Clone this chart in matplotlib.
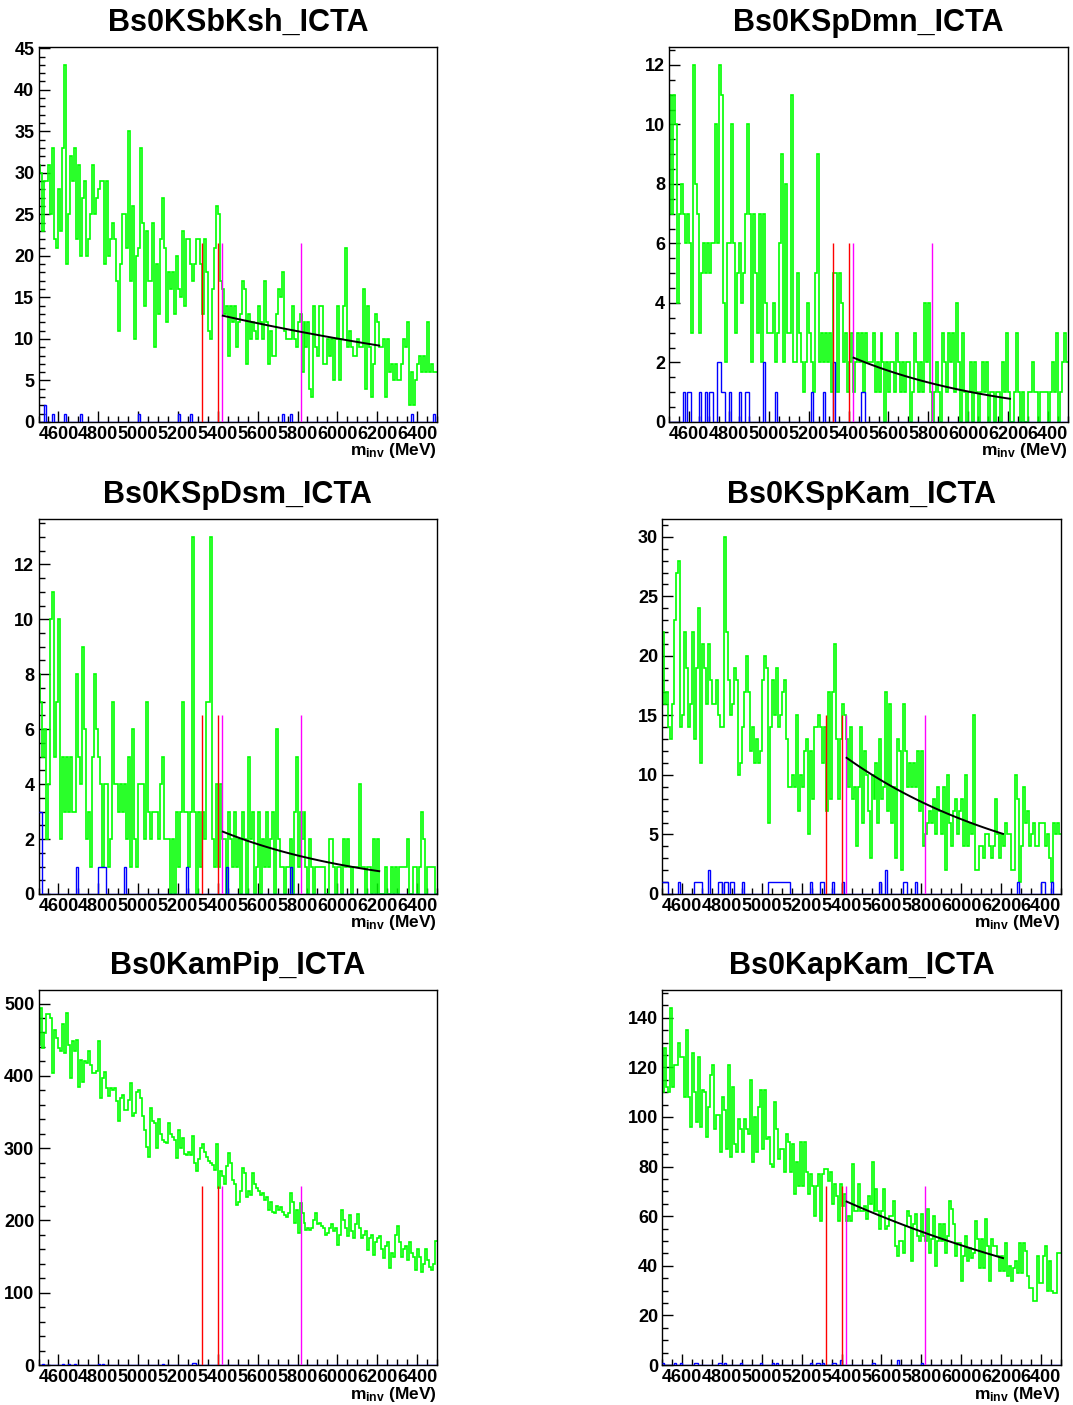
import numpy as np
import matplotlib
matplotlib.use("Agg")
import matplotlib.pyplot as plt
from matplotlib.ticker import MultipleLocator

plt.rcParams['font.family'] = ['Liberation Sans', 'DejaVu Sans']
plt.rcParams['font.weight'] = 'bold'
plt.rcParams['mathtext.fontset'] = 'custom'
plt.rcParams['mathtext.rm'] = 'Liberation Sans:bold'
plt.rcParams['mathtext.it'] = 'Liberation Sans:bold'
plt.rcParams['mathtext.bf'] = 'Liberation Sans:bold'

# binning: 200 bins of 10 MeV
m_lo, m_hi, n_bins = 4500, 6500, 200
edges = np.linspace(m_lo, m_hi, n_bins + 1)

titles = ["Bs0KSbKsh_ICTA", "Bs0KSpDmn_ICTA", "Bs0KSpDsm_ICTA",
          "Bs0KSpKam_ICTA", "Bs0KamPip_ICTA", "Bs0KapKam_ICTA"]

# green histograms (10 MeV bins)
green_ksbksh = [
    31, 30, 23, 29, 29, 31, 25, 33, 22, 21,
    28, 23, 33, 43, 19, 25, 32, 29, 33, 22,
    31, 20, 27, 29, 20, 22, 25, 31, 25, 27,
    28, 29, 29, 19, 29, 20, 22, 24, 22, 17,
    11, 19, 25, 25, 21, 35, 17, 26, 10, 20,
    21, 33, 24, 14, 23, 17, 17, 24, 9, 19,
    13, 22, 27, 21, 12, 18, 16, 18, 13, 20,
    16, 15, 23, 14, 22, 22, 19, 17, 19, 22,
    22, 19, 13, 22, 18, 11, 10, 16, 21, 26,
    25, 17, 16, 13, 14, 8, 14, 12, 14, 9,
    12, 13, 17, 16, 7, 13, 10, 12, 11, 10,
    14, 12, 10, 17, 12, 7, 11, 8, 8, 13,
    16, 15, 18, 11, 10, 10, 10, 14, 10, 9,
    12, 13, 6, 12, 9, 12, 4, 3, 14, 9,
    8, 14, 14, 7, 7, 10, 8, 10, 5, 10,
    14, 5, 10, 14, 21, 9, 11, 9, 8, 8,
    10, 9, 9, 16, 4, 14, 9, 3, 7, 13,
    12, 9, 9, 10, 3, 10, 6, 7, 5, 7,
    5, 5, 7, 10, 9, 12, 2, 6, 2, 5,
    7, 8, 6, 8, 6, 12, 6, 7, 6, 6]

green_kspdmn = [
    11, 7, 11, 10, 4, 7, 8, 7, 6, 7,
    6, 3, 12, 8, 7, 3, 5, 6, 5, 6,
    5, 6, 6, 10, 6, 12, 11, 4, 2, 6,
    6, 10, 6, 3, 5, 6, 4, 5, 7, 10,
    7, 2, 7, 5, 3, 7, 2, 7, 4, 3,
    3, 3, 4, 2, 3, 6, 9, 2, 8, 3,
    3, 11, 2, 2, 5, 3, 2, 1, 2, 4,
    3, 2, 1, 5, 9, 2, 3, 2, 3, 2,
    3, 1, 5, 5, 1, 5, 4, 2, 3, 1,
    2, 3, 1, 2, 3, 2, 3, 1, 3, 2,
    2, 2, 3, 1, 2, 1, 3, 2, 0, 2,
    1, 2, 2, 1, 3, 2, 1, 2, 1, 2,
    2, 0, 1, 3, 2, 1, 2, 1, 4, 2,
    4, 1, 0, 1, 2, 1, 0, 3, 2, 1,
    3, 2, 3, 1, 4, 2, 0, 3, 1, 0,
    1, 2, 0, 2, 1, 0, 1, 2, 1, 2,
    0, 1, 1, 0, 1, 1, 0, 2, 1, 3,
    1, 0, 0, 1, 3, 1, 0, 1, 0, 0,
    1, 1, 2, 1, 1, 0, 1, 1, 1, 1,
    0, 1, 2, 1, 3, 0, 1, 2, 3, 2]

green_kspdsm = [
    8, 7, 5, 6, 2, 4, 10, 11, 5, 7,
    10, 2, 5, 3, 5, 3, 5, 3, 3, 8,
    5, 4, 9, 6, 2, 3, 1, 5, 8, 6,
    5, 4, 1, 4, 4, 1, 2, 7, 4, 4,
    3, 4, 3, 4, 2, 5, 1, 6, 2, 1,
    4, 4, 4, 2, 7, 3, 2, 3, 3, 3,
    2, 4, 5, 2, 2, 2, 0, 2, 0, 3,
    1, 3, 7, 3, 3, 1, 3, 13, 3, 0,
    3, 1, 3, 2, 7, 7, 13, 2, 1, 4,
    1, 4, 2, 2, 0, 3, 2, 1, 3, 1,
    2, 0, 3, 2, 0, 5, 2, 3, 0, 1,
    3, 0, 2, 1, 3, 1, 2, 3, 0, 6,
    2, 1, 1, 0, 1, 1, 2, 0, 3, 5,
    1, 3, 2, 3, 1, 0, 2, 1, 0, 1,
    1, 1, 1, 1, 0, 0, 2, 2, 1, 0,
    1, 1, 0, 2, 1, 2, 1, 0, 1, 1,
    1, 4, 1, 1, 0, 1, 1, 0, 2, 0,
    2, 0, 0, 0, 1, 0, 0, 1, 0, 1,
    0, 1, 1, 1, 1, 2, 0, 0, 1, 1,
    0, 1, 3, 2, 0, 1, 1, 1, 1, 0]

green_kspkam = [
    22, 16, 17, 14, 13, 16, 23, 27, 28, 14,
    15, 22, 19, 14, 16, 22, 13, 19, 24, 11,
    21, 19, 16, 21, 18, 16, 16, 18, 15, 14,
    14, 30, 22, 18, 15, 16, 19, 18, 10, 11,
    14, 17, 20, 17, 12, 14, 11, 13, 11, 12,
    18, 20, 19, 6, 14, 18, 15, 19, 14, 15,
    17, 18, 13, 9, 9, 10, 9, 15, 7, 10,
    9, 12, 13, 5, 12, 8, 14, 14, 15, 14,
    11, 14, 7, 17, 8, 17, 21, 13, 8, 13,
    16, 15, 13, 9, 14, 8, 9, 4, 9, 14,
    6, 12, 10, 7, 3, 10, 8, 11, 6, 13,
    8, 9, 17, 7, 16, 6, 9, 3, 13, 12,
    2, 16, 12, 9, 11, 9, 11, 9, 12, 7,
    12, 4, 5, 6, 7, 6, 8, 5, 9, 7,
    5, 9, 2, 10, 6, 4, 7, 8, 5, 7,
    8, 4, 10, 4, 6, 5, 15, 2, 2, 4,
    4, 3, 5, 5, 4, 3, 4, 8, 5, 3,
    5, 4, 6, 5, 5, 2, 2, 10, 8, 1,
    4, 9, 6, 7, 4, 5, 6, 4, 4, 6,
    6, 6, 4, 5, 3, 1, 6, 5, 6, 5]

green_kampip = [
    443, 494, 438, 459, 485, 485, 480, 404, 464, 452,
    438, 434, 471, 432, 487, 443, 397, 448, 434, 450,
    385, 422, 392, 420, 418, 434, 415, 404, 404, 406,
    448, 369, 397, 405, 383, 372, 383, 380, 383, 365,
    337, 370, 374, 353, 353, 367, 390, 344, 348, 378,
    381, 369, 345, 325, 302, 288, 355, 337, 335, 300,
    340, 320, 311, 308, 307, 335, 320, 316, 311, 286,
    325, 300, 314, 292, 290, 295, 290, 317, 280, 268,
    285, 300, 306, 295, 288, 282, 279, 276, 270, 305,
    245, 268, 262, 250, 275, 293, 280, 256, 250, 222,
    225, 240, 272, 265, 233, 240, 235, 265, 250, 245,
    240, 235, 238, 228, 232, 215, 225, 212, 210, 220,
    215, 218, 212, 208, 205, 210, 238, 225, 196, 215,
    182, 224, 210, 196, 187, 190, 187, 190, 200, 210,
    195, 197, 192, 190, 180, 183, 190, 195, 185, 190,
    166, 180, 215, 200, 190, 178, 208, 185, 175, 195,
    209, 190, 175, 180, 185, 159, 175, 180, 152, 170,
    175, 178, 160, 148, 165, 170, 134, 155, 150, 180,
    192, 170, 150, 160, 165, 145, 170, 155, 150, 132,
    160, 150, 129, 140, 160, 145, 135, 132, 140, 171]

green_kapkam = [
    110, 128, 112, 110, 144, 112, 121, 121, 130, 124,
    124, 108, 135, 108, 96, 126, 110, 98, 124, 96,
    111, 110, 92, 104, 117, 121, 95, 101, 101, 86,
    108, 103, 87, 121, 84, 112, 89, 86, 99, 95,
    86, 99, 95, 93, 115, 82, 100, 86, 104, 111,
    87, 111, 91, 92, 81, 80, 106, 95, 83, 87,
    87, 78, 93, 90, 78, 89, 69, 82, 72, 90,
    72, 90, 78, 69, 77, 72, 60, 72, 77, 58,
    77, 79, 79, 74, 78, 65, 73, 68, 58, 73,
    64, 69, 58, 60, 58, 81, 62, 62, 73, 62,
    62, 64, 59, 68, 65, 82, 62, 71, 62, 55,
    62, 71, 55, 56, 60, 60, 66, 48, 44, 50,
    50, 45, 56, 62, 60, 42, 57, 61, 52, 50,
    61, 52, 50, 63, 45, 51, 60, 40, 50, 57,
    50, 57, 45, 52, 66, 63, 57, 44, 49, 49,
    34, 44, 52, 42, 47, 43, 45, 58, 51, 39,
    51, 39, 59, 48, 34, 51, 48, 48, 44, 38,
    44, 38, 49, 36, 40, 34, 39, 42, 37, 49,
    37, 49, 46, 36, 31, 31, 26, 26, 44, 33,
    33, 44, 48, 30, 42, 30, 29, 29, 45, 45]

# blue histograms: sparse entries (mass in MeV, count)
blue_ksbksh_m = [4535, 4575, 4635, 4715, 5005, 5205, 5265, 5725, 5765, 6375, 6485]
blue_ksbksh_n = [2, 1, 1, 1, 1, 1, 1, 1, 1, 1, 1]
blue_kspdmn_m = [4575, 4595, 4605, 4655, 4685, 4705, 4715, 4745, 4755, 4765, 4775,
                 4805, 4855, 4885, 4895, 4975, 5035, 5215, 5275, 5325, 5465, 5475]
blue_kspdmn_n = [1, 1, 1, 1, 1, 1, 1, 2, 2, 1, 1, 1, 1, 1, 1, 2, 1, 1, 1, 2, 1, 1]
blue_kspdsm_m = [4505, 4515, 4695, 4805, 4815, 4825, 4835, 4935, 5245, 5445, 5765]
blue_kspdsm_n = [3, 3, 1, 1, 1, 1, 1, 1, 1, 1, 1]
blue_kspkam_m = [4505, 4515, 4525, 4585, 4665, 4675, 4685, 4695, 4735, 4785, 4795,
                 4815, 4825, 4845, 4855, 4905, 5035, 5045, 5055, 5065, 5075, 5085,
                 5095, 5105, 5115, 5125, 5135, 5245, 5295, 5305, 5355, 5405, 5595,
                 5625, 5715, 5725, 5775, 6285, 6405, 6415, 6455]
blue_kspkam_n = [1, 1, 1, 1, 1, 1, 1, 1, 2, 1, 1, 1, 1, 1, 1, 1, 1, 1, 1, 1, 1, 1,
                 1, 1, 1, 1, 1, 1, 1, 1, 1, 1, 1, 2, 1, 1, 1, 1, 1, 1, 1]
blue_kampip_m = [4525, 4625, 4655, 4685, 4805, 4825, 5125, 5275, 5285]
blue_kampip_n = [1, 2, 1, 1, 1, 1, 2, 3, 3]
blue_kapkam_m = [4505, 4565, 4595, 4665, 4675, 4785, 4795, 4815, 4895, 4995, 5055,
                 5075, 5245, 5275, 5285, 5305, 5355, 5365, 5395, 5555, 5565, 5685, 5805]
blue_kapkam_n = [1, 1, 1, 1, 1, 1, 1, 1, 1, 1, 1, 1, 1, 1, 1, 1, 1, 1, 2, 1, 1, 2, 1]

green_all = [green_ksbksh, green_kspdmn, green_kspdsm,
             green_kspkam, green_kampip, green_kapkam]
blue_all = [(blue_ksbksh_m, blue_ksbksh_n), (blue_kspdmn_m, blue_kspdmn_n),
            (blue_kspdsm_m, blue_kspdsm_n), (blue_kspkam_m, blue_kspkam_n),
            (blue_kampip_m, blue_kampip_n), (blue_kapkam_m, blue_kapkam_n)]

# marker lines
red_lines = [5320, 5400]
magenta_lines = [5420, 5817]

# exponential fit: value at start and end of fit range (None = no fit)
fit_lo, fit_hi = 5425, 6210
fit_ends = [(12.8, 9.2), (2.16, 0.78), (2.27, 0.83), (11.44, 5.05), None, (65.9, 43.1)]

y_major = [5, 2, 2, 5, 100, 20]
y_minor = [1, 0.5, 0.5, 1, 20, 5]

# axes frames in pixels (left, top) of 1073x1405 figure
W, H = 1073, 1405
frames = [(38.5, 47), (669.3, 47), (38.5, 519), (662.3, 519), (38.5, 990), (662.3, 990)]
fw, fh = 398.5, 375

fig = plt.figure(figsize=(W / 100, H / 100), dpi=100)

for k in range(6):
    x0, y0 = frames[k]
    ax = fig.add_axes([x0 / W, 1 - (y0 + fh) / H, fw / W, fh / H])
    g = np.array(green_all[k], dtype=float)
    ymax = g.max()
    bm, bn = blue_all[k]
    b, _ = np.histogram(bm, bins=edges, weights=bn)

    ax.stairs(g, edges, color='#00ff00', lw=1.2, baseline=None, zorder=2)
    ax.stairs(b, edges, color='#0000ff', lw=1.0, baseline=None, zorder=3)

    ax.vlines(red_lines, 0, ymax / 2, color='#ff0000', lw=1.0, zorder=4)
    ax.vlines(magenta_lines, 0, ymax / 2, color='#ff00ff', lw=1.0, zorder=4)

    if fit_ends[k] is not None:
        a0, a1 = fit_ends[k]
        mm = np.linspace(fit_lo, fit_hi, 100)
        ax.plot(mm, a0 * (a1 / a0) ** ((mm - fit_lo) / (fit_hi - fit_lo)),
                color='black', lw=1.4, zorder=5)

    ax.set_xlim(m_lo, m_hi)
    ax.set_ylim(0, ymax * 1.05)
    ax.xaxis.set_major_locator(MultipleLocator(200))
    ax.xaxis.set_minor_locator(MultipleLocator(50))
    ax.yaxis.set_major_locator(MultipleLocator(y_major[k]))
    ax.yaxis.set_minor_locator(MultipleLocator(y_minor[k]))
    ax.tick_params(which='major', direction='in', length=8, width=1,
                   labelsize=13, pad=3)
    ax.tick_params(which='minor', direction='in', length=4, width=1)
    for lab in ax.get_xticklabels() + ax.get_yticklabels():
        lab.set_fontweight('bold')
    for sp in ax.spines.values():
        sp.set_linewidth(1.0)

    ax.text(0.5, 1 + 24 / fh, titles[k], transform=ax.transAxes,
            ha='center', va='center', fontsize=22, fontweight='bold')
    ax.text(1.0, -29 / fh, r'$\mathregular{m_{inv}}$ (MeV)', transform=ax.transAxes,
            ha='right', va='center', fontsize=12.5, fontweight='bold')

fig.savefig('out.png', dpi=100)
